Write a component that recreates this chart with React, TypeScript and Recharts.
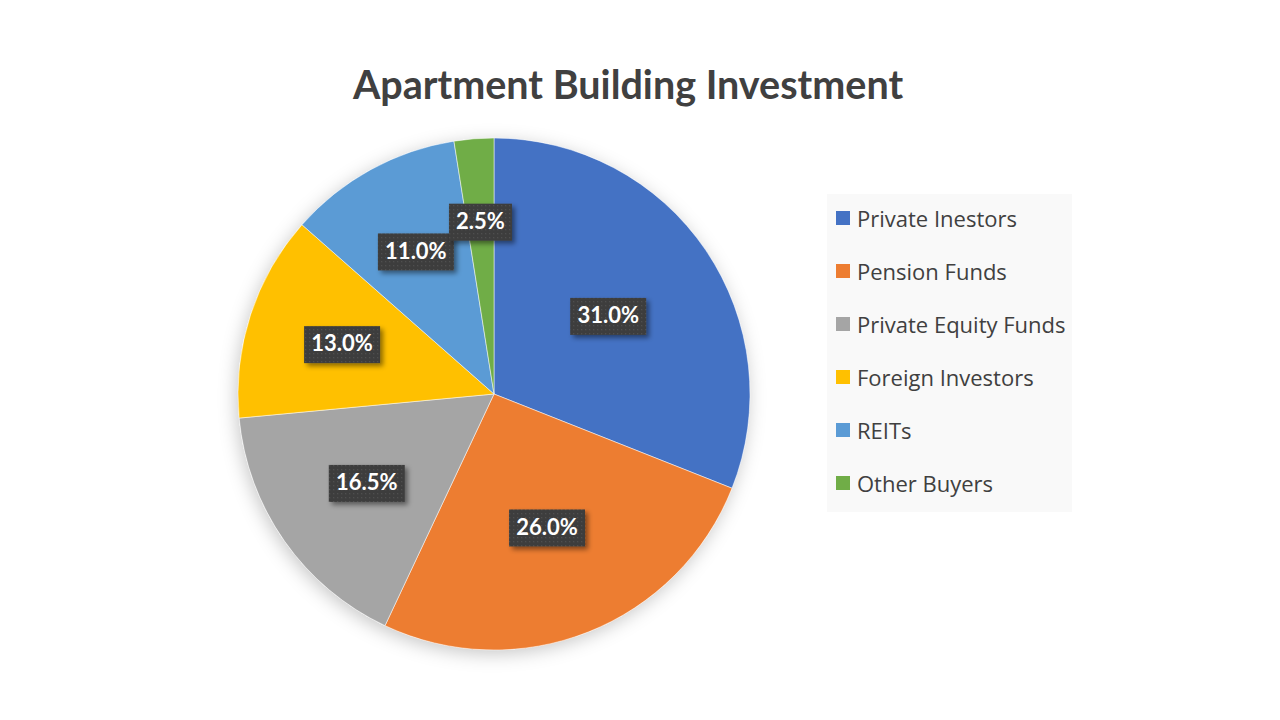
import { PieChart, Pie, Cell, Legend } from 'recharts';

const categories = [
  'Private Inestors',
  'Pension Funds',
  'Private Equity Funds',
  'Foreign Investors',
  'REITs',
  'Other Buyers',
];
const shares = [31.0, 26.0, 16.5, 13.0, 11.0, 2.5];
const sliceColors = ['#4472C4', '#ED7D31', '#A5A5A5', '#FFC000', '#5B9BD5', '#70AD47'];

const pieData = categories.map((name, i) => ({ name, value: shares[i] }));
const backdrop = [{ name: 'backdrop', value: 1 }];

const RAD = Math.PI / 180;

// dark label box with white bold percentage, like the Excel callouts
// small slices push their label a bit further out (Excel "best fit")
const renderLabel = (props: any) => {
  const { cx, cy, midAngle, outerRadius, value, percent } = props;
  const r = outerRadius * (0.685 - 0.47 * percent);
  const x = cx + r * Math.cos(-midAngle * RAD);
  const y = cy + r * Math.sin(-midAngle * RAD);
  const text = `${value.toFixed(1)}%`;
  const w = 13 * text.length + 11;
  const h = 37;
  return (
    <g>
      <rect
        x={x - w / 2}
        y={y - h / 2}
        width={w}
        height={h}
        fill="url(#dots)"
        filter="url(#labelShadow)"
      />
      <text
        x={x}
        y={y + 1}
        textAnchor="middle"
        dominantBaseline="middle"
        fill="#ffffff"
        fontFamily="Lato, 'Open Sans', sans-serif"
        fontWeight={700}
        fontSize={22}
      >
        {text}
      </text>
    </g>
  );
};

const renderLegend = () => (
  <div
    style={{
      background: '#f9f9f9',
      width: 245,
      height: 318,
      boxSizing: 'border-box',
      paddingLeft: 9,
      fontFamily: "'Open Sans', sans-serif",
      fontSize: 22,
      color: '#404040',
      overflow: 'hidden',
    }}
  >
    <div style={{ position: 'relative', top: -3 }}>
      {categories.map((name, i) => (
        <div key={name} style={{ display: 'flex', alignItems: 'center', height: 53 }}>
          <span
            style={{
              display: 'inline-block',
              width: 14,
              height: 14,
              background: sliceColors[i],
              marginRight: 7,
              flexShrink: 0,
            }}
          />
          <span style={{ whiteSpace: 'nowrap' }}>{name}</span>
        </div>
      ))}
    </div>
  </div>
);

export default function App() {
  return (
    <div style={{ position: 'absolute', left: 0, top: 0, width: 1280, height: 720, background: '#ffffff' }}>
      <div
        style={{
          position: 'absolute',
          left: 0,
          top: 60,
          width: 1256,
          textAlign: 'center',
          fontFamily: "Lato, 'Open Sans', sans-serif",
          fontWeight: 700,
          fontSize: 39.5,
          color: '#404040',
        }}
      >
        Apartment Building Investment
      </div>
      <PieChart width={1280} height={720} margin={{ top: 0, right: 0, bottom: 0, left: 0 }}>
        <defs>
          <filter id="pieShadow" x="-20%" y="-20%" width="140%" height="140%">
            <feDropShadow dx="-2" dy="4" stdDeviation="9" floodColor="#000" floodOpacity="0.22" />
          </filter>
          <filter id="labelShadow" x="-30%" y="-30%" width="160%" height="180%">
            <feDropShadow dx="3" dy="3" stdDeviation="2.5" floodColor="#000" floodOpacity="0.45" />
          </filter>
          <pattern id="dots" width="4" height="4" patternUnits="userSpaceOnUse">
            <rect width="4" height="4" fill="#3d3d3d" />
            <rect x="1" y="1" width="1.3" height="1.3" fill="#505050" />
          </pattern>
        </defs>
        <Pie
          data={backdrop}
          dataKey="value"
          cx={494}
          cy={394}
          outerRadius={256}
          stroke="none"
          isAnimationActive={false}
          legendType="none"
        >
          <Cell fill="#ffffff" filter="url(#pieShadow)" />
        </Pie>
        <Pie
          data={pieData}
          dataKey="value"
          nameKey="name"
          cx={494}
          cy={394}
          outerRadius={256}
          startAngle={90}
          endAngle={-270}
          stroke="#ffffff"
          strokeWidth={0.5}
          label={renderLabel}
          labelLine={false}
          isAnimationActive={false}
        >
          {pieData.map((entry, i) => (
            <Cell key={entry.name} fill={sliceColors[i]} />
          ))}
        </Pie>
        <Legend
          content={renderLegend}
          wrapperStyle={{ position: 'absolute', left: 827, top: 194, width: 245, height: 318 }}
        />
      </PieChart>
    </div>
  );
}
